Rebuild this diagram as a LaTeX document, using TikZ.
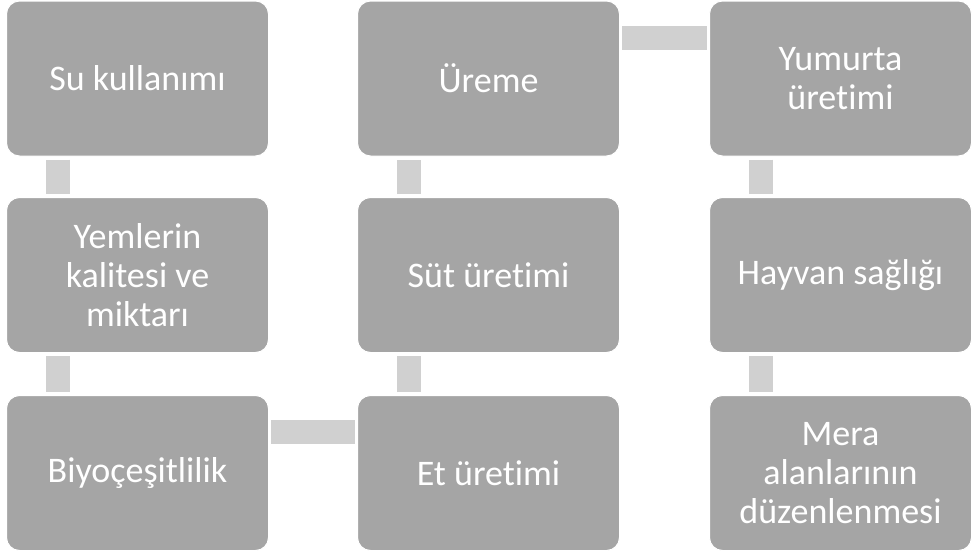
\documentclass[tikz,border=0pt]{standalone}
\usepackage{fontspec}
\setmainfont[Ligatures={NoCommon}]{Carlito}
\usetikzlibrary{calc}
\definecolor{boxfill}{HTML}{A5A5A5}
\definecolor{connfill}{HTML}{D0D0D0}
\begin{document}
\begin{tikzpicture}[x=1pt,y=-1pt,
  stepbox/.style={draw=white, line width=1pt, fill=boxfill, rounded corners=13pt,
    minimum width=262pt, minimum height=155pt, text=white,
    font=\fontsize{36}{39}\selectfont, align=center, inner sep=0pt, anchor=north west},
  conn/.style={draw=connfill, line width=24pt}]
\useasboundingbox (0,0) rectangle (972,555);
\node[stepbox] (a) at (6,0.5) {Su kullanımı};
\node[stepbox] (b) at (6,197) {Yemlerin\\kalitesi ve\\miktarı};
\node[stepbox] (c) at (6,395) {Biyoçeşitlilik};
\node[stepbox] (d) at (357,395) {Et üretimi};
\node[stepbox] (e) at (357,197) {Süt üretimi};
\node[stepbox] (f) at (357,0.5) {Üreme};
\node[stepbox] (g) at (709,0.5) {Yumurta\\üretimi};
\node[stepbox] (h) at (709,197) {Hayvan sağlığı};
\node[stepbox] (i) at (709,395) {Mera\\alanlarının\\düzenlenmesi};
\draw[conn] ($(a.south west)+(52,3)$) -- ($(b.north west)+(52,-3)$);
\draw[conn] ($(b.south west)+(52,3)$) -- ($(c.north west)+(52,-3)$);
\draw[conn] ($(c.north east)+(2,37)$) -- ($(d.north west)+(-2,37)$);
\draw[conn] ($(d.north west)+(52,-3)$) -- ($(e.south west)+(52,3)$);
\draw[conn] ($(e.north west)+(52,-3)$) -- ($(f.south west)+(52,3)$);
\draw[conn] ($(f.north east)+(2,37)$) -- ($(g.north west)+(-2,37)$);
\draw[conn] ($(g.south west)+(52,3)$) -- ($(h.north west)+(52,-3)$);
\draw[conn] ($(h.south west)+(52,3)$) -- ($(i.north west)+(52,-3)$);
\end{tikzpicture}
\end{document}
